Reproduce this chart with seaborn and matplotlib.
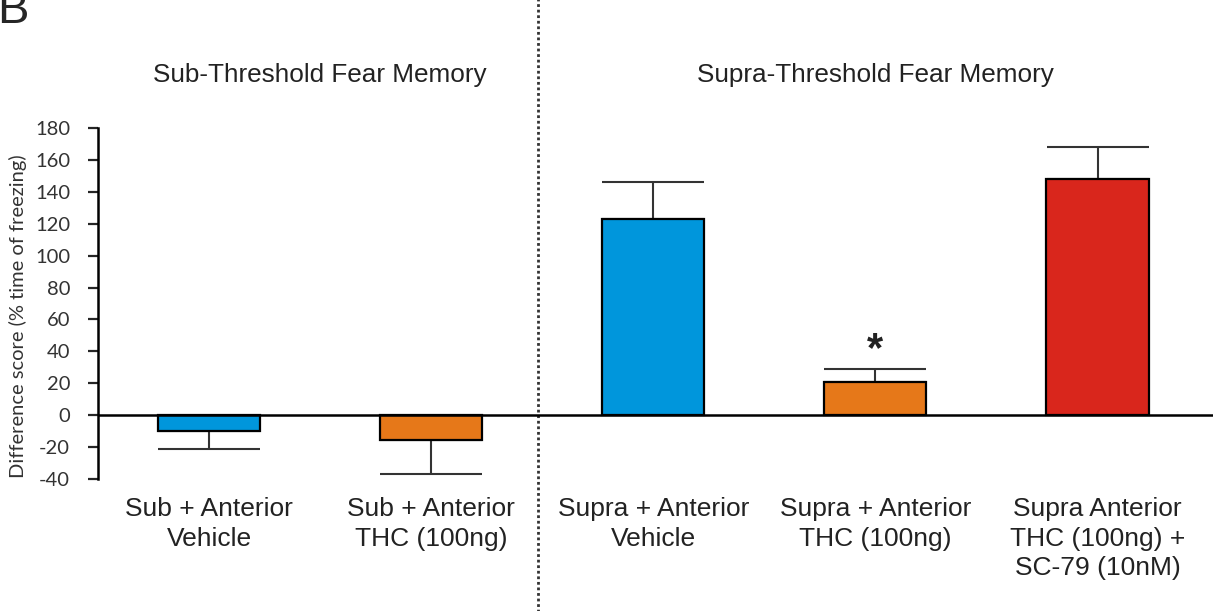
import matplotlib
matplotlib.use("Agg")
import matplotlib.pyplot as plt
import seaborn as sns
import pandas as pd

# --- data ---
groups = ["Sub + Anterior\nVehicle", "Sub + Anterior\nTHC (100ng)",
          "Supra + Anterior\nVehicle", "Supra + Anterior\nTHC (100ng)",
          "Supra Anterior\nTHC (100ng) +\nSC-79 (10nM)"]
means = [-10, -15.5, 123, 21, 148]
sem = [11, 21.5, 23, 8, 20]
colors = ["#0096DC", "#E67819", "#0096DC", "#E67819", "#D9261C"]
panel_titles = ["Sub-Threshold Fear Memory", "Supra-Threshold Fear Memory"]
y_ticks = list(range(-40, 181, 20))

df = pd.DataFrame({"group": groups, "score": means})

sns.set_style("white")
plt.rcParams["font.family"] = ["Liberation Sans", "DejaVu Sans"]
plt.rcParams["axes.unicode_minus"] = False

fig = plt.figure(figsize=(12.13, 6.11), dpi=100)
ax = fig.add_axes([98 / 1213, 0.216, 1 - 98 / 1213, 0.5745])

sns.barplot(data=df, x="group", y="score", hue="group", palette=colors,
            saturation=1, width=0.46, edgecolor="black", linewidth=1.6,
            errorbar=None, legend=False, ax=ax, zorder=3)

# one-sided error bars (away from zero)
lower = [s if m < 0 else 0 for m, s in zip(means, sem)]
upper = [s if m >= 0 else 0 for m, s in zip(means, sem)]
ax.errorbar(range(len(means)), means, yerr=[lower, upper], fmt="none",
            ecolor="#333333", elinewidth=1.5, capsize=36.5, capthick=1.5, zorder=2)

ax.axhline(0, color="black", lw=1.8, zorder=4)

ax.set_xlim(-0.5, 4.52)
ax.set_ylim(-40, 180)
ax.set_yticks(y_ticks)
ax.tick_params(axis="y", direction="out", length=7, width=1.6, labelsize=14.5,
               left=True, pad=13, labelcolor="#333333")
for lbl in ax.get_yticklabels():
    lbl.set_family(["Lato", "DejaVu Sans"])
ax.tick_params(axis="x", length=0, labelsize=19, pad=13)
for lbl in ax.get_xticklabels():
    lbl.set_linespacing(1.3)
    lbl.set_color("#222222")
ax.set_xlabel("")
ax.set_ylabel("Difference score (% time of freezing)", fontsize=14.5,
              color="#333333", family=["Lato", "DejaVu Sans"])
ax.yaxis.set_label_coords(-0.064, 0.465)

for side in ["top", "right", "bottom"]:
    ax.spines[side].set_visible(False)
ax.spines["left"].set_linewidth(1.8)
ax.spines["left"].set_color("black")

# dotted divider spanning the whole figure height
ax.axvline(1.48, ymin=-0.38, ymax=1.37, color="#333333", lw=2,
           linestyle=(0, (1, 1)), clip_on=False)

# panel titles
ax.text(0.5, 1.15, panel_titles[0], transform=ax.get_xaxis_transform(),
        ha="center", va="center", fontsize=18.8, color="#222222")
ax.text(3.0, 1.15, panel_titles[1], transform=ax.get_xaxis_transform(),
        ha="center", va="center", fontsize=18.8, color="#222222")

# significance marker
ax.text(3, means[3] + sem[3] + 12, "*", ha="center", va="center",
        fontsize=30, fontweight="bold", color="#222222")

fig.text(-0.002, 1 - 23 / 611, "B", fontsize=34, ha="left", va="baseline")

fig.savefig("out.png", dpi=100)
